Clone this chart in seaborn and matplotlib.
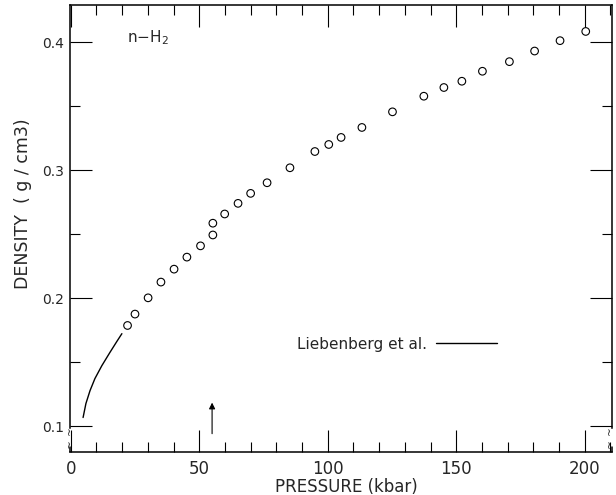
import matplotlib
matplotlib.use("Agg")
import matplotlib.pyplot as plt
import matplotlib.transforms as mtransforms
from matplotlib.ticker import MultipleLocator
import seaborn as sns

# Data
pressure = [22.1, 25.0, 30.1, 35.1, 40.2, 45.2, 50.5, 55.3, 55.3, 59.9, 65.1, 70.0,
            76.4, 85.3, 95.0, 100.4, 105.2, 113.3, 125.2, 137.4, 145.2, 152.2,
            160.2, 170.7, 180.5, 190.4, 200.4]
density = [0.1786, 0.1875, 0.2002, 0.2125, 0.2226, 0.2320, 0.2408, 0.2493, 0.2585,
           0.2657, 0.2740, 0.2818, 0.2901, 0.3018, 0.3145, 0.3200, 0.3255, 0.3333,
           0.3455, 0.3577, 0.3645, 0.3694, 0.3772, 0.3847, 0.3930, 0.4011, 0.4083]

# Liebenberg et al. curve
lieb_p = [4.8, 5.9, 7.5, 9.4, 12.1, 15.2, 17.9, 19.9]
lieb_rho = [0.1067, 0.1176, 0.1277, 0.1371, 0.1472, 0.1574, 0.1660, 0.1722]

sns.set_style("ticks")
plt.rcParams['font.family'] = ['DejaVu Sans']

fig, ax = plt.subplots(figsize=(6.16, 4.95), dpi=100)
fig.subplots_adjust(left=0.1136, right=0.993, top=0.99, bottom=0.0875)

sns.scatterplot(x=pressure, y=density, ax=ax, marker='o', s=30,
                facecolors='none', edgecolor='black', linewidth=0.8)
sns.lineplot(x=lieb_p, y=lieb_rho, ax=ax, color='black', lw=1.0,
             label='Liebenberg et al.')

ax.set_xlim(-0.3, 210.5)
ax.set_ylim(0.080, 0.429)

ax.xaxis.set_major_locator(MultipleLocator(50))
ax.xaxis.set_minor_locator(MultipleLocator(10))
ax.yaxis.set_major_locator(MultipleLocator(0.1))
ax.yaxis.set_minor_locator(MultipleLocator(0.05))
ax.tick_params(which='both', direction='in', top=True, right=True,
               color='black', width=0.8)
ax.tick_params(which='major', length=16)
ax.tick_params(which='minor', length=7)
ax.tick_params(axis='x', labelsize=12, pad=6)
ax.tick_params(axis='y', labelsize=10, pad=4)

for sp in ax.spines.values():
    sp.set_linewidth(1.1)
    sp.set_color('black')

# axis breaks near the bottom of both vertical spines
ax.spines['left'].set_bounds(0.0985, 0.429)
ax.spines['right'].set_bounds(0.0985, 0.429)
frac = (0.0838 - 0.080) / (0.429 - 0.080)
for xa in (0, 1):
    ax.axvline(ax.get_xlim()[xa], ymin=0, ymax=frac, color='black', lw=1.1,
               clip_on=False)
trans = mtransforms.blended_transform_factory(ax.transAxes, ax.transData)
for xa in (0.0, 0.996):
    for yb in (0.0963, 0.0862):
        ax.text(xa, yb, '~', transform=trans, ha='center', va='center',
                rotation=90, fontsize=7.5, clip_on=False)

ax.set_xlabel('PRESSURE (kbar)', fontsize=12)
ax.xaxis.label.set_va('center')
ax.xaxis.set_label_coords(0.51, -0.080)
ax.set_ylabel('DENSITY  ( g / cm3)', fontsize=12.5)
ax.yaxis.set_label_coords(-0.070, 0.555)

ax.text(21.9, 0.4037, 'n$-$H$_2$', fontsize=11, va='center')

ax.annotate('', xy=(55, 0.1205), xytext=(55, 0.0919),
            arrowprops=dict(arrowstyle='-|>', lw=0.8, color='black',
                            mutation_scale=9))

ax.legend(loc='center left', bbox_to_anchor=(0.4185, 0.241), frameon=False,
          markerfirst=False, handlelength=4.0, handletextpad=0.6,
          borderpad=0, borderaxespad=0, fontsize=11)

fig.savefig('out.png', dpi=100)
